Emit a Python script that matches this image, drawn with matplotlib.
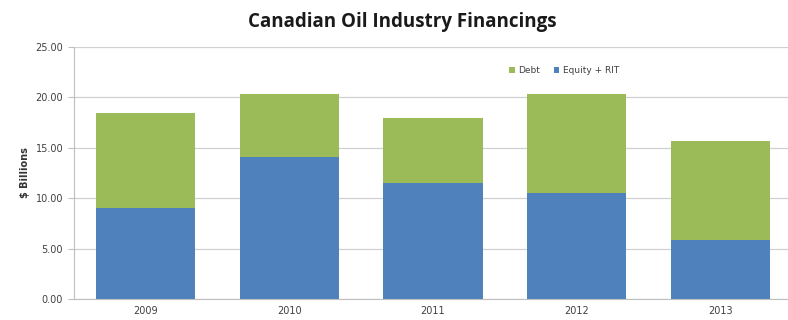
import matplotlib.pyplot as plt
import numpy as np

years = ['2009', '2010', '2011', '2012', '2013']
equity = [9.05, 14.05, 11.5, 10.55, 5.9]
total = [18.5, 20.3, 17.95, 20.3, 15.7]
debt = [t - e for t, e in zip(total, equity)]

blue = '#4F81BD'
green = '#9BBB59'
grey = '#595959'

fig = plt.figure(figsize=(7.88, 3.20), dpi=100)
ax = fig.add_axes([73.5 / 788, 1 - 299 / 320, 719 / 788, (299 - 47) / 320])

x = np.arange(len(years))
ax.bar(x, equity, width=0.69, color=blue, label='Equity + RIT', zorder=2)
ax.bar(x, debt, width=0.69, bottom=equity, color=green, label='Debt', zorder=2)

ax.set_xlim(-0.5, 4.5)
ax.set_ylim(0, 25)
ax.set_yticks(np.arange(0, 26, 5))
ax.set_yticklabels([f'{v:.2f}' for v in np.arange(0, 26, 5)])
ax.set_xticks(x)
ax.set_xticklabels(years)
ax.tick_params(axis='both', labelsize=7, colors=grey, labelcolor='#404040')
ax.tick_params(axis='x', length=0, pad=5)
ax.tick_params(axis='y', length=4, color='#bfbfbf')
ax.yaxis.grid(True, color='#d0d0d0', linewidth=0.9, zorder=0)

for s in ['top', 'right']:
    ax.spines[s].set_visible(False)
ax.spines['left'].set_color('#bfbfbf')
ax.spines['bottom'].set_color('#bfbfbf')

ax.set_ylabel('$ Billions', fontsize=7, fontweight='bold', color='#333333', labelpad=4)

handles, labels = ax.get_legend_handles_labels()
ax.legend(handles[::-1], labels[::-1], loc='upper left', bbox_to_anchor=(0.595, 0.955),
          ncol=2, frameon=False, fontsize=6.5, handlelength=0.6, handleheight=0.6,
          columnspacing=1.5, handletextpad=0.4, labelcolor='#404040')

fig.text(0.51, 0.93, 'Canadian Oil Industry Financings', ha='center', va='center',
         fontsize=13.5, fontweight='bold', family='Open Sans', color='#1a1a1a')

fig.savefig('out.png', dpi=100)
